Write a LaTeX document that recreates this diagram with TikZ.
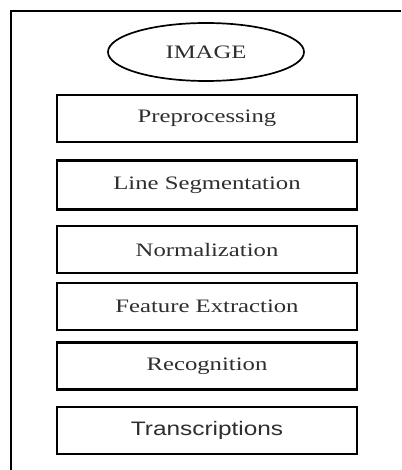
\documentclass[tikz,border=0pt]{standalone}
\usepackage{fontspec}
\setmainfont{Liberation Serif}
\newfontfamily\arialfont{Liberation Sans}
\usetikzlibrary{shapes.geometric}
\tikzset{
  stagebox/.style={draw=black, line width=2.2pt, minimum width=300pt, minimum height=47pt, inner sep=0pt, text=black!82},
  startoval/.style={draw=black, line width=1.7pt, ellipse, minimum width=196pt, minimum height=58pt, inner sep=0pt, text=black!82},
  framefont/.style={font=\fontsize{19}{21}\selectfont}
}
\newcommand{\wtxt}[1]{\scalebox{1.3}[1]{#1}}
\begin{document}
\begin{tikzpicture}[x=1pt,y=-1pt]
\useasboundingbox (0,0) rectangle (401,470);
\fill[white] (0,0) rectangle (401,470);
\draw[line width=2.2pt] (11,470) -- (11,11) -- (401,11);
\node[startoval, framefont] (img) at (206,52) {\wtxt{IMAGE}};
\node[stagebox, framefont] (pre) at (207,118.5) {\wtxt{Preprocessing}};
\node[stagebox, framefont, minimum height=49pt] (seg) at (207,185) {\wtxt{Line Segmentation}};
\node[stagebox, framefont] (norm) at (207,249.5) {\wtxt{Normalization}};
\node[stagebox, framefont] (feat) at (207,306.5) {\wtxt{Feature Extraction}};
\node[stagebox, framefont] (rec) at (207,366) {\wtxt{Recognition}};
\node[stagebox, font=\arialfont\fontsize{19.5}{21}\selectfont] (tra) at (207,430.5) {\scalebox{1.25}[1]{Transcriptions}};
\end{tikzpicture}
\end{document}
